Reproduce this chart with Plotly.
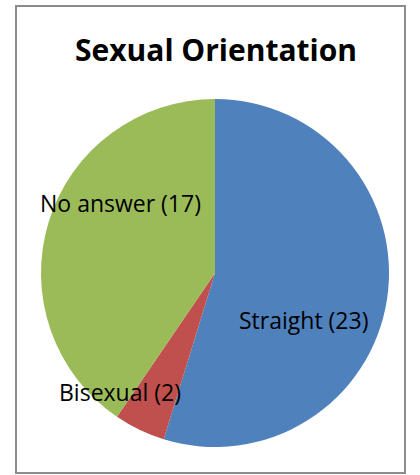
import plotly.graph_objects as go

# data
categories = ["Straight", "Bisexual", "No answer"]
counts = [23, 2, 17]
colors = ["#4F81BD", "#C0504D", "#9BBB59"]

W, H = 420, 475
# label anchor points in pixels (layout only)
label_pos = [(303, 320), (120, 392), (120, 203)]

fig = go.Figure(
    go.Pie(
        labels=categories,
        values=counts,
        sort=False,
        direction="clockwise",
        rotation=0,
        marker={"colors": colors, "line": {"width": 0}},
        textinfo="none",
        hoverinfo="label+value",
        showlegend=False,
        domain={"x": [40 / W, 390 / W], "y": [1 - 447 / H, 1 - 99 / H]},
    )
)

for (px, py), name, n in zip(label_pos, categories, counts):
    fig.add_annotation(
        x=px / W, y=1 - py / H, xref="paper", yref="paper",
        xanchor="center", yanchor="middle",
        text=f"{name} ({n})", showarrow=False,
        font={"family": "Open Sans", "size": 23, "color": "black"},
    )

fig.add_shape(
    type="rect", xref="paper", yref="paper",
    x0=16 / W, x1=405 / W, y0=1 - 473 / H, y1=1 - 6 / H,
    line={"color": "#8c8c8c", "width": 2}, fillcolor="rgba(0,0,0,0)",
)

fig.update_layout(
    width=W, height=H,
    margin={"t": 0, "b": 0, "l": 0, "r": 0},
    paper_bgcolor="white",
    title={
        "text": "<b>Sexual Orientation</b>",
        "x": 216 / W, "xanchor": "center",
        "y": 1 - 50 / H, "yanchor": "middle",
        "font": {"family": "Open Sans", "size": 30, "color": "black"},
    },
)

fig.write_html(
    "out.html",
    config={"displayModeBar": False},
    post_script="document.body.style.margin='0';",
)
